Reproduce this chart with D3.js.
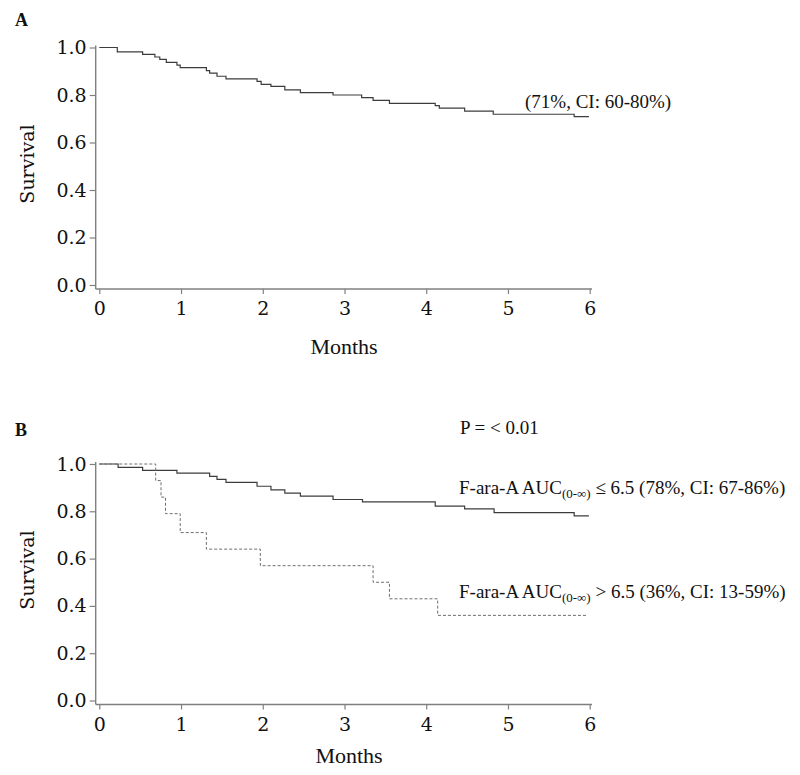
<!DOCTYPE html>
<html>
<head>
<meta charset="utf-8">
<script src="https://cdn.jsdelivr.net/npm/d3@7"></script>
<style>
  body { margin: 0; background: #fff; }
  svg { display: block; }
  .tick text { font-family: 'DejaVu Serif', serif; font-size: 19px; fill: #111; }
  .lbl { font-family: 'Liberation Serif', 'Times New Roman', serif; fill: #111; }
</style>
</head>
<body>
<svg width="800" height="775"></svg>
<script>
const d3 = window.d3

// Data

const monthTicks = [0, 1, 2, 3, 4, 5, 6]
const survTicks = [0, 0.2, 0.4, 0.6, 0.8, 1.0]

// Panel A, all patients
const allTimes = [0.22, 0.53, 0.68, 0.74, 0.82, 0.95, 0.99, 1.31, 1.35, 1.44, 1.55, 1.93, 1.98,
  2.10, 2.27, 2.46, 2.86, 3.21, 3.35, 3.55, 4.11, 4.16, 4.47, 4.82, 5.81]
const allSurv = [0.982, 0.971, 0.960, 0.950, 0.937, 0.926, 0.915, 0.903, 0.892, 0.879, 0.868, 0.857, 0.845,
  0.836, 0.822, 0.810, 0.800, 0.789, 0.777, 0.765, 0.755, 0.745, 0.732, 0.719, 0.709]

// Panel B, AUC <= 6.5
const lowTimes = [0.23, 0.53, 0.95, 1.35, 1.44, 1.55, 1.93, 2.10, 2.27, 2.46, 2.86, 3.22, 4.11, 4.47, 4.83, 5.81]
const lowSurv = [0.986, 0.973, 0.961, 0.948, 0.935, 0.922, 0.906, 0.891, 0.877, 0.864, 0.850, 0.840, 0.822, 0.810, 0.794, 0.781]

// Panel B, AUC > 6.5
const highTimes = [0.69, 0.755, 0.81, 0.99, 1.31, 1.97, 3.35, 3.55, 4.14]
const highSurv = [0.93, 0.86, 0.79, 0.71, 0.64, 0.57, 0.50, 0.43, 0.36]

const svg = d3.select('svg')

function steps (times, surv, end) {
  const pts = [[0, 1]]
  times.forEach((t, i) => pts.push([t, surv[i]]))
  pts.push([end, surv[surv.length - 1]])
  return pts
}

function drawPanel (opts) {
  const x = d3.scaleLinear().domain([0, 6]).range([99.3, 589.7])
  const y = d3.scaleLinear().domain([0, 1]).range([opts.y0, opts.y1])
  const g = svg.append('g')
  const axisY = opts.y0 + 4

  // axis lines
  g.append('line')
    .attr('x1', 95.7).attr('x2', 95.7)
    .attr('y1', opts.y1 - 2).attr('y2', axisY)
    .attr('stroke', '#808080').attr('stroke-width', 1.4)
  g.append('line')
    .attr('x1', 95.7).attr('x2', 592)
    .attr('y1', axisY).attr('y2', axisY)
    .attr('stroke', '#808080').attr('stroke-width', 1.4)

  const ya = g.append('g').attr('transform', 'translate(95.7,0)')
    .call(d3.axisLeft(y).tickValues(survTicks).tickFormat(d3.format('.1f')).tickSize(6).tickPadding(3))
  const xa = g.append('g').attr('transform', `translate(0,${axisY})`)
    .call(d3.axisBottom(x).tickValues(monthTicks).tickFormat(d3.format('d')).tickSize(5).tickPadding(8))
  ;[ya, xa].forEach(a => {
    a.select('.domain').remove()
    a.selectAll('.tick line').attr('stroke', '#808080').attr('stroke-width', 1.2)
  })
  xa.selectAll('.tick text').attr('dy', '0.71em')

  const line = d3.line().x(d => x(d[0])).y(d => y(d[1])).curve(d3.curveStepAfter)
  opts.curves.forEach(c => {
    g.append('path')
      .attr('d', line(steps(c.times, c.surv, c.end)))
      .attr('fill', 'none')
      .attr('stroke', c.dashed ? '#6e6e6e' : '#3c3c3c')
      .attr('stroke-width', c.dashed ? 1 : 1.2)
      .attr('stroke-dasharray', c.dashed ? '3,2' : null)
  })

  g.append('text').attr('class', 'lbl')
    .attr('x', 15).attr('y', opts.letterY)
    .attr('font-size', 18).attr('font-weight', 'bold')
    .text(opts.letter)

  g.append('text')
    .attr('transform', `translate(34,${opts.survY}) rotate(-90)`)
    .attr('text-anchor', 'middle')
    .style('font-family', "'DejaVu Serif', serif").style('font-size', '19px').style('fill', '#111')
    .text('Survival')

  g.append('text').attr('class', 'lbl')
    .attr('x', opts.monthsX).attr('y', opts.monthsY)
    .attr('text-anchor', 'middle').attr('font-size', 22)
    .text('Months')

  return g
}

const gA = drawPanel({
  letter: 'A', letterY: 26, y0: 285, y1: 47.5, survY: 164, monthsX: 344, monthsY: 354,
  curves: [{ times: allTimes, surv: allSurv, end: 5.99 }]
})
gA.append('text').attr('class', 'lbl')
  .attr('x', 525).attr('y', 108).attr('font-size', 19)
  .text('(71%, CI: 60-80%)')

const gB = drawPanel({
  letter: 'B', letterY: 436, y0: 700.5, y1: 464, survY: 570, monthsX: 349, monthsY: 763,
  curves: [
    { times: lowTimes, surv: lowSurv, end: 5.99 },
    { times: highTimes, surv: highSurv, end: 5.97, dashed: true }
  ]
})
gB.append('text').attr('class', 'lbl')
  .attr('x', 460).attr('y', 434).attr('font-size', 19)
  .text('P = < 0.01')

function aucLabel (yPos, rest) {
  const t = gB.append('text').attr('class', 'lbl')
    .attr('x', 459).attr('y', yPos).attr('font-size', 19)
  t.append('tspan').text('F-ara-A AUC')
  t.append('tspan').attr('font-size', 13).attr('dy', 4).text('(0-\u221e)')
  t.append('tspan').attr('dy', -4).text(rest)
}
aucLabel(494, ' \u2264 6.5 (78%, CI: 67-86%)')
aucLabel(598, ' > 6.5 (36%, CI: 13-59%)')
</script>
</body>
</html>
